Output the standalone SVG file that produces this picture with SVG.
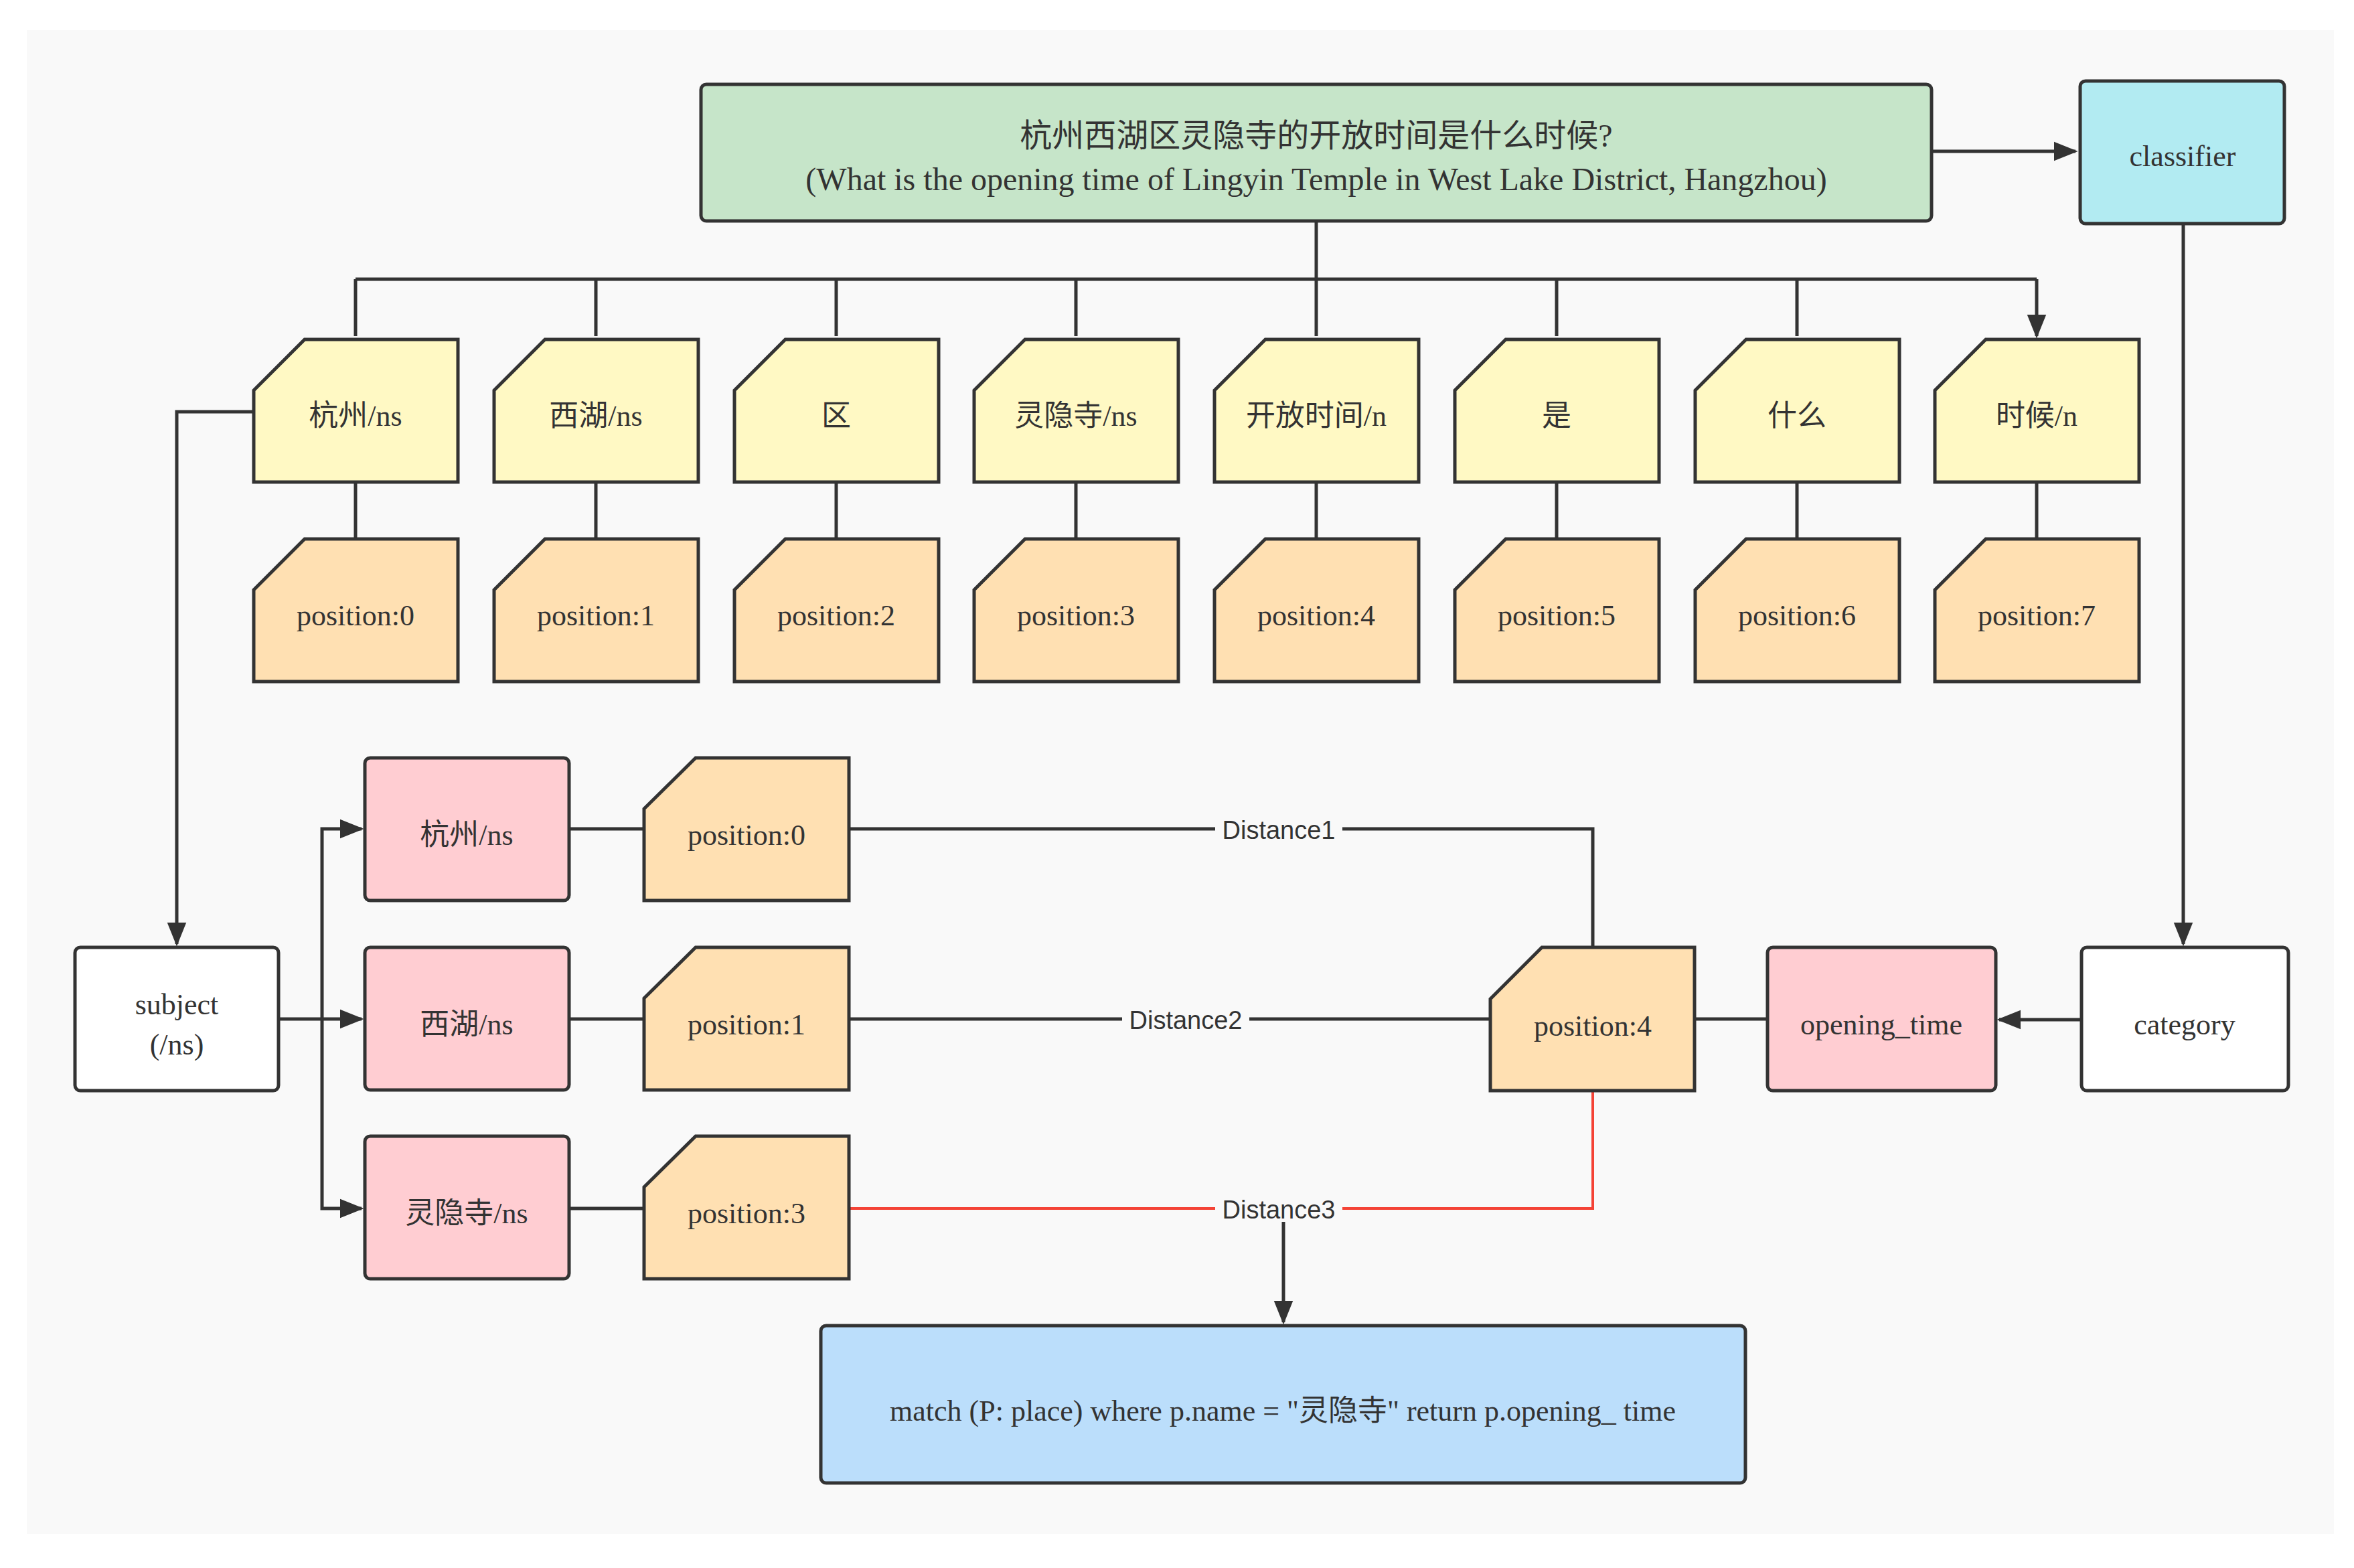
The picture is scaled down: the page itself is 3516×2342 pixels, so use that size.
<svg xmlns="http://www.w3.org/2000/svg" width="3516" height="2342" viewBox="0 0 3516 2342">
<defs>
<marker id="ar" viewBox="0 0 10 10" refX="9" refY="5" markerWidth="7" markerHeight="7" markerUnits="userSpaceOnUse" orient="auto"><path d="M0,0 L10,5 L0,10 z" fill="#333"/></marker>
<marker id="arr" viewBox="0 0 10 10" refX="9" refY="5" markerWidth="36" markerHeight="36" markerUnits="userSpaceOnUse" orient="auto"><path d="M0,1 L10,5 L0,9 z" fill="#333"/></marker>
<style>
.n{stroke:#333;stroke-width:5}
.y{fill:#fff9c4}.o{fill:#ffe0b2}.p{fill:#ffcdd2}.w{fill:#fff}
.t{font-family:"Liberation Serif","Noto Sans CJK SC",serif;font-size:44px;fill:#333;text-anchor:middle;dominant-baseline:central}
.c{fill:none;stroke:#333;stroke-width:5}
.l{font-family:"Liberation Sans","Noto Sans CJK SC",sans-serif;font-size:38px;fill:#333;text-anchor:middle;dominant-baseline:central}
</style>
</defs>
<rect x="40" y="45" width="3446" height="2246" fill="#f9f9f9"/>
<g id="connectors">
<path class="c" d="M2885,226 H3100" marker-end="url(#arr)"/>
<path class="c" d="M1966,330 V417 M531,417 H3042"/>
<path class="c" d="M531,417 V502 M890,417 V502 M1249,417 V502 M1607,417 V502 M1966,417 V502 M2325,417 V502 M2684,417 V502 M3042,417 V502" marker-end="url(#arr)"/>
<path class="c" d="M531,720 V805 M890,720 V805 M1249,720 V805 M1607,720 V805 M1966,720 V805 M2325,720 V805 M2684,720 V805 M3042,720 V805"/>
<path class="c" d="M379,615 H264 V1410" marker-end="url(#arr)"/>
<path class="c" d="M3261,334 V1410" marker-end="url(#arr)"/>
<path class="c" d="M416,1522 H540" marker-end="url(#arr)"/>
<path class="c" d="M481,1522 V1238 H540" marker-end="url(#arr)"/>
<path class="c" d="M481,1522 V1805 H540" marker-end="url(#arr)"/>
<path class="c" d="M850,1238 H962 M850,1522 H962 M850,1805 H962"/>
<path class="c" d="M1268,1238 H2379 V1415"/>
<path class="c" d="M1268,1522 H2226"/>
<path d="M1268,1805 H2379 V1629" fill="none" stroke="#f44336" stroke-width="4"/>
<path class="c" d="M1917,1805 V1975" marker-end="url(#arr)"/>
<path class="c" d="M2531,1522 H2640"/>
<path class="c" d="M3109,1523 H2986" marker-end="url(#arr)"/>
<rect x="1815" y="1218" width="190" height="40" fill="#f9f9f9"/><text class="l" x="1910" y="1240">Distance1</text>
<rect x="1676" y="1502" width="190" height="40" fill="#f9f9f9"/><text class="l" x="1771" y="1524">Distance2</text>
<rect x="1815" y="1785" width="190" height="40" fill="#f9f9f9"/><text class="l" x="1910" y="1807">Distance3</text>
</g>
<g id="question"><rect class="n" x="1047" y="126" width="1838" height="204" rx="8" fill="#c6e5c9"/>
<text class="t" x="1966" y="202" style="font-size:48px">杭州西湖区灵隐寺的开放时间是什么时候?</text>
<text class="t" x="1966" y="267" style="font-size:48px">(What is the opening time of Lingyin Temple in West Lake District, Hangzhou)</text></g>
<g id="classifier"><rect class="n" x="3107" y="121" width="305" height="213" rx="8" fill="#b2ebf2"/><text class="t" x="3260" y="233">classifier</text></g>
<g id="words">
<g id="w0"><path class="n y" d="M455,507 H684 V720 H379 V583 z"/><text class="t" x="531" y="621">杭州/ns</text></g>
<g id="w1"><path class="n y" d="M814,507 H1043 V720 H738 V583 z"/><text class="t" x="890" y="621">西湖/ns</text></g>
<g id="w2"><path class="n y" d="M1173,507 H1402 V720 H1097 V583 z"/><text class="t" x="1249" y="621">区</text></g>
<g id="w3"><path class="n y" d="M1531,507 H1760 V720 H1455 V583 z"/><text class="t" x="1607" y="621">灵隐寺/ns</text></g>
<g id="w4"><path class="n y" d="M1890,507 H2119 V720 H1814 V583 z"/><text class="t" x="1966" y="621">开放时间/n</text></g>
<g id="w5"><path class="n y" d="M2249,507 H2478 V720 H2173 V583 z"/><text class="t" x="2325" y="621">是</text></g>
<g id="w6"><path class="n y" d="M2608,507 H2837 V720 H2532 V583 z"/><text class="t" x="2684" y="621">什么</text></g>
<g id="w7"><path class="n y" d="M2966,507 H3195 V720 H2890 V583 z"/><text class="t" x="3042" y="621">时候/n</text></g>
</g>
<g id="positions">
<g id="p0"><path class="n o" d="M455,805 H684 V1018 H379 V881 z"/><text class="t" x="531" y="919">position:0</text></g>
<g id="p1"><path class="n o" d="M814,805 H1043 V1018 H738 V881 z"/><text class="t" x="890" y="919">position:1</text></g>
<g id="p2"><path class="n o" d="M1173,805 H1402 V1018 H1097 V881 z"/><text class="t" x="1249" y="919">position:2</text></g>
<g id="p3"><path class="n o" d="M1531,805 H1760 V1018 H1455 V881 z"/><text class="t" x="1607" y="919">position:3</text></g>
<g id="p4"><path class="n o" d="M1890,805 H2119 V1018 H1814 V881 z"/><text class="t" x="1966" y="919">position:4</text></g>
<g id="p5"><path class="n o" d="M2249,805 H2478 V1018 H2173 V881 z"/><text class="t" x="2325" y="919">position:5</text></g>
<g id="p6"><path class="n o" d="M2608,805 H2837 V1018 H2532 V881 z"/><text class="t" x="2684" y="919">position:6</text></g>
<g id="p7"><path class="n o" d="M2966,805 H3195 V1018 H2890 V881 z"/><text class="t" x="3042" y="919">position:7</text></g>
</g>
<g id="subject"><rect class="n w" x="112" y="1415" width="304" height="214" rx="8"/><text class="t" x="264" y="1500">subject</text><text class="t" x="264" y="1560">(/ns)</text></g>
<g id="e0"><rect class="n p" x="545" y="1132" width="305" height="213" rx="8"/><text class="t" x="697" y="1247">杭州/ns</text></g>
<g id="e1"><rect class="n p" x="545" y="1415" width="305" height="213" rx="8"/><text class="t" x="697" y="1530">西湖/ns</text></g>
<g id="e2"><rect class="n p" x="545" y="1697" width="305" height="213" rx="8"/><text class="t" x="697" y="1812">灵隐寺/ns</text></g>
<g id="ep0"><path class="n o" d="M1039,1132 H1268 V1345 H962 V1208 z"/><text class="t" x="1115" y="1247">position:0</text></g>
<g id="ep1"><path class="n o" d="M1039,1415 H1268 V1628 H962 V1491 z"/><text class="t" x="1115" y="1530">position:1</text></g>
<g id="ep3"><path class="n o" d="M1039,1697 H1268 V1910 H962 V1773 z"/><text class="t" x="1115" y="1812">position:3</text></g>
<g id="ep4"><path class="n o" d="M2303,1415 H2531 V1629 H2226 V1492 z"/><text class="t" x="2379" y="1532">position:4</text></g>
<g id="opening"><rect class="n p" x="2640" y="1415" width="341" height="214" rx="8"/><text class="t" x="2810" y="1530">opening_time</text></g>
<g id="category"><rect class="n w" x="3109" y="1415" width="309" height="214" rx="8"/><text class="t" x="3263" y="1530">category</text></g>
<g id="match"><rect class="n" x="1226" y="1980" width="1381" height="235" rx="8" fill="#bbdefb"/><text class="t" x="1916" y="2107">match (P: place) where p.name = "灵隐寺" return p.opening_ time</text></g>
</svg>
